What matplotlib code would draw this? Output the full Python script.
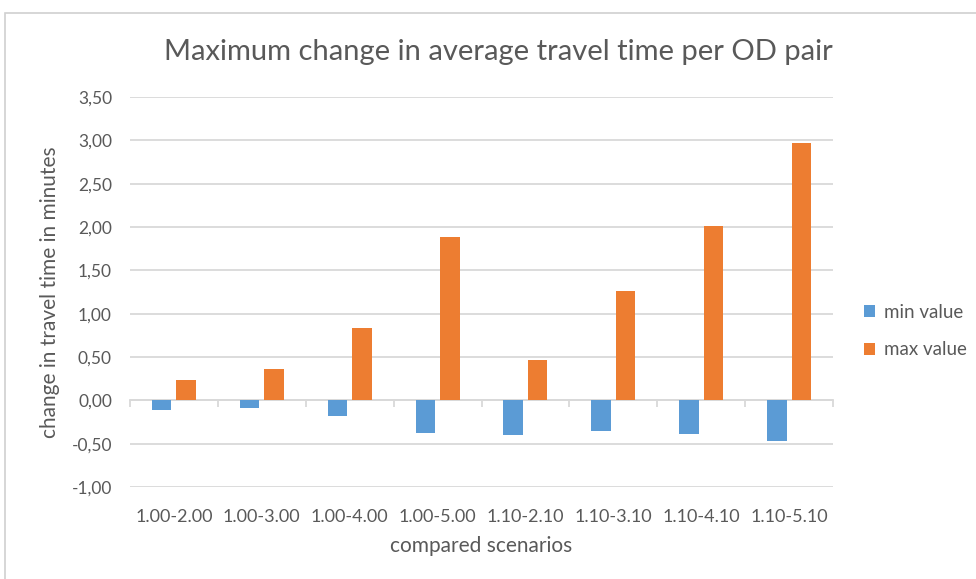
import numpy as np
import matplotlib.pyplot as plt
from matplotlib.patches import Rectangle

scenarios = ['1.00-2.00', '1.00-3.00', '1.00-4.00', '1.00-5.00',
             '1.10-2.10', '1.10-3.10', '1.10-4.10', '1.10-5.10']
min_value = [-0.11, -0.09, -0.18, -0.38, -0.40, -0.35, -0.39, -0.47]
max_value = [0.24, 0.365, 0.84, 1.88, 0.465, 1.26, 2.01, 2.97]
y_ticks = [-1.0, -0.5, 0.0, 0.5, 1.0, 1.5, 2.0, 2.5, 3.0, 3.5]

BLUE = '#5B9BD5'
ORANGE = '#ED7D31'
TEXT = '#595959'
GRID = '#D9D9D9'


def main():
    plt.rcParams['font.family'] = ['Lato', 'DejaVu Sans']
    fig = plt.figure(figsize=(9.76, 5.79), dpi=100)
    fig.patch.set_facecolor('white')

    # light frame around the chart area
    fig.patches.append(Rectangle((5 / 976, -0.1), 1.2, 1 - 13 / 579 + 0.1,
                                 transform=fig.transFigure, fill=False,
                                 edgecolor='#D0D0D0', lw=1.2))

    ax = fig.add_axes([130 / 976, 1 - 487 / 579, 703 / 976, 390 / 579])
    x = np.arange(len(scenarios))
    w = 0.222
    off = 0.14
    ax.bar(x - off, min_value, w, color=BLUE, label='min value', zorder=3)
    ax.bar(x + off, max_value, w, color=ORANGE, label='max value', zorder=3)

    ax.set_xlim(-0.5, len(scenarios) - 0.5)
    ax.set_ylim(-1.0, 3.5)
    ax.set_yticks(y_ticks)
    ax.set_yticklabels([f'{v:.2f}'.replace('.', ',') for v in y_ticks])
    ax.yaxis.grid(True, color=GRID, lw=1.3, zorder=0)
    ax.set_axisbelow(True)
    for s in ax.spines.values():
        s.set_visible(False)

    ax.set_xticks(x)
    ax.set_xticklabels(scenarios)
    ax.tick_params(axis='x', length=0, pad=16, labelsize=13, labelcolor=TEXT)
    ax.tick_params(axis='y', length=0, pad=13, labelsize=12.5, labelcolor=TEXT)

    # category axis drawn along zero with boundary ticks
    zero_axis = ax.secondary_xaxis(1 / 4.5)
    zero_axis.set_xticks(np.arange(len(scenarios) + 1) - 0.5)
    zero_axis.tick_params(length=5, color=GRID, width=1.3, labelbottom=False,
                          labeltop=False, direction='out')
    zero_axis.spines['bottom'].set_color(GRID)
    zero_axis.spines['bottom'].set_linewidth(1.3)

    ax.set_xlabel('compared scenarios', fontsize=15, color=TEXT, labelpad=8)
    ax.set_ylabel('change in travel time in minutes', fontsize=15,
                  color=TEXT, labelpad=8)
    fig.text(498 / 976, 1 - 52 / 579,
             'Maximum change in average travel time per OD pair',
             ha='center', va='center', fontsize=21, color=TEXT)

    ax.legend(loc='center left', bbox_to_anchor=(1.02, 0.40), frameon=False,
              fontsize=13.5, labelcolor=TEXT, handlelength=0.6, handleheight=0.6,
              handletextpad=0.45, labelspacing=1.1)

    fig.savefig('out.png', dpi=100)


if __name__ == '__main__':
    main()
